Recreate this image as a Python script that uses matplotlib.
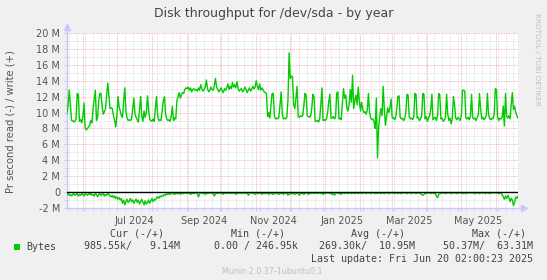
import numpy as np
import pandas as pd
import matplotlib
matplotlib.use('Agg')
import matplotlib.pyplot as plt
import matplotlib.dates as mdates
from matplotlib.ticker import MultipleLocator, FuncFormatter

# daily write throughput (MB/s), one row per week starting 2024-05-18
write_m = [
    9.9, 11.0, 12.8, 11.0, 9.0, 9.0, 8.8,
    8.9, 9.2, 12.4, 12.3, 8.9, 9.1, 8.7,
    9.5, 11.2, 8.1, 7.8, 8.0, 8.2, 8.4,
    9.0, 8.7, 10.5, 11.6, 12.8, 9.0, 9.4,
    11.5, 12.4, 12.4, 10.8, 9.8, 10.1, 10.5,
    12.2, 13.7, 12.0, 10.5, 10.6, 10.5, 9.6,
    9.0, 8.2, 9.5, 12.0, 10.7, 10.2, 9.6,
    9.4, 11.5, 13.1, 10.2, 9.3, 9.0, 9.1,
    9.0, 9.2, 10.5, 11.8, 9.8, 9.4, 9.1,
    8.8, 10.4, 12.0, 9.5, 8.9, 10.2, 9.4,
    10.0, 12.1, 10.4, 9.1, 9.0, 8.9, 9.2,
    8.9, 10.6, 12.0, 9.6, 9.0, 9.1, 9.0,
    10.3, 11.5, 12.0, 9.8, 9.2, 9.0, 9.1,
    8.9, 9.5, 10.8, 9.0, 9.3, 9.2, 11.5,
    12.0, 12.5, 11.8, 12.3, 12.5, 12.4, 12.9,
    13.1, 13.0, 13.2, 12.8, 13.1, 12.6, 12.9,
    13.0, 12.8, 12.9, 12.7, 13.1, 12.8, 13.5,
    13.0, 12.7, 12.9, 13.2, 14.1, 13.0, 12.6,
    12.8, 13.2, 12.9, 12.8, 13.4, 14.3, 13.2,
    12.9, 12.6, 12.8, 13.1, 12.7, 12.5, 13.0,
    12.8, 13.1, 13.6, 12.9, 13.3, 13.0, 13.8,
    13.2, 13.5, 13.1, 13.9, 13.0, 12.7, 12.9,
    13.0, 12.6, 12.8, 13.2, 12.9, 12.5, 12.8,
    13.1, 12.7, 12.9, 13.3, 13.0, 13.2, 14.0,
    13.3, 12.9, 13.6, 12.8, 13.1, 12.9, 12.6,
    12.5, 12.4, 9.5, 10.0, 9.3, 11.0, 12.4,
    12.4, 9.6, 9.2, 9.3, 9.2, 9.4, 11.0,
    12.6, 9.8, 9.2, 9.3, 9.2, 9.4, 11.5,
    17.5, 14.3, 14.6, 14.5, 11.0, 10.5, 11.8,
    13.3, 9.5, 9.4, 9.6, 9.5, 9.6, 10.8,
    12.4, 12.2, 9.6, 9.5, 9.4, 9.6, 10.5,
    12.3, 12.0, 8.9, 8.9, 9.0, 8.8, 9.2,
    11.0, 13.1, 9.0, 9.1, 9.0, 9.2, 10.0,
    11.4, 12.3, 9.3, 9.3, 9.5, 9.2, 9.4,
    12.4, 12.6, 9.2, 9.3, 9.1, 11.0, 13.0,
    11.8, 12.2, 10.5, 10.2, 11.0, 12.9, 11.3,
    14.7, 10.5, 11.5, 12.2, 11.0, 13.2, 11.5,
    10.2, 11.3, 10.4, 10.0, 10.1, 9.8, 10.3,
    12.4, 10.0, 9.3, 9.1, 9.2, 8.8, 8.0,
    11.8, 4.3, 8.2, 9.5, 10.5, 9.6, 13.3,
    10.5, 8.4, 9.5, 10.6, 10.0, 10.6, 11.7,
    9.3, 9.4, 9.1, 9.3, 10.5, 12.0, 12.1,
    9.4, 9.2, 9.3, 9.0, 9.2, 10.0, 12.3,
    12.2, 9.5, 9.2, 9.3, 9.1, 9.4, 12.4,
    12.3, 9.3, 9.4, 9.0, 9.2, 9.6, 12.4,
    12.3, 9.2, 9.5, 8.9, 9.3, 9.6, 10.4,
    12.3, 9.1, 9.3, 9.4, 9.0, 9.5, 12.4,
    12.2, 9.2, 9.3, 8.9, 9.1, 9.4, 12.3,
    9.8, 9.0, 9.3, 8.6, 9.2, 12.0, 11.0,
    9.3, 9.1, 9.4, 9.2, 9.0, 9.6, 12.8,
    12.8, 12.7, 9.3, 9.2, 9.4, 9.1, 9.5,
    12.3, 9.4, 9.2, 9.3, 9.0, 9.4, 9.7,
    12.4, 10.5, 9.2, 9.4, 9.1, 9.3, 9.6,
    12.4, 9.8, 9.2, 9.1, 9.3, 9.2, 9.8,
    13.0, 12.9, 9.4, 9.0, 9.3, 9.2, 9.4,
    10.8, 8.3, 12.4, 9.5, 9.3, 9.6, 9.2,
    11.0, 12.5, 10.4, 10.8, 10.0, 9.6, 9.3,
]

# daily read throughput (MB/s), drawn below zero
read_m = [
    0.3, 0.2, 0.4, 0.3, 0.5, 0.3, 0.2,
    0.4, 0.3, 0.2, 0.5, 0.3, 0.4, 0.2,
    0.3, 0.5, 0.2, 0.3, 0.4, 0.2, 0.3,
    0.2, 0.4, 0.3, 0.5, 0.2, 0.3, 0.6,
    0.3, 0.2, 0.4, 0.3, 0.2, 0.5, 0.3,
    0.4, 0.2, 0.3, 0.5, 0.6, 0.4, 0.7,
    0.5, 0.8, 0.6, 0.9, 0.7, 1.0, 0.8,
    1.4, 1.0, 1.6, 1.2, 0.9, 1.3, 1.1,
    0.8, 1.2, 1.0, 1.4, 1.1, 0.9, 1.3,
    1.0, 1.5, 1.2, 0.9, 1.3, 1.6, 1.1,
    1.5, 1.3, 1.0, 1.4, 1.1, 0.8, 1.2,
    0.9, 1.0, 0.7, 0.6, 0.8, 0.5, 0.6,
    0.4, 0.5, 0.3, 0.4, 0.2, 0.3, 0.2,
    0.3, 0.2, 0.1, 0.2, 0.3, 0.1, 0.2,
    0.2, 0.1, 0.3, 0.2, 0.1, 0.2, 0.1,
    0.1, 0.2, 0.1, 0.1, 0.3, 0.2, 0.1,
    0.2, 0.1, 0.1, 0.2, 0.6, 0.2, 0.1,
    0.1, 0.2, 0.1, 0.3, 0.1, 0.2, 0.1,
    0.1, 0.1, 0.2, 0.1, 0.5, 0.2, 0.1,
    0.2, 0.1, 0.1, 0.2, 0.1, 0.3, 0.1,
    0.1, 0.2, 0.1, 0.1, 0.2, 0.1, 0.2,
    0.1, 0.1, 0.3, 0.1, 0.2, 0.1, 0.1,
    0.2, 0.1, 0.1, 0.2, 0.1, 0.1, 0.4,
    0.2, 0.1, 0.1, 0.2, 0.1, 0.3, 0.2,
    0.1, 0.2, 0.1, 0.1, 0.3, 0.1, 0.2,
    0.1, 0.2, 0.1, 0.3, 0.2, 0.1, 0.2,
    0.3, 0.1, 0.2, 0.1, 0.2, 0.3, 0.1,
    0.2, 0.1, 0.3, 0.1, 0.2, 0.1, 0.4,
    0.2, 0.3, 0.1, 0.2, 0.1, 0.3, 0.2,
    0.1, 0.2, 0.4, 0.1, 0.2, 0.1, 0.3,
    0.2, 0.1, 0.1, 0.3, 0.1, 0.2, 0.1,
    0.1, 0.2, 0.1, 0.1, 0.2, 0.1, 0.1,
    0.2, 0.1, 0.3, 0.1, 0.2, 0.1, 0.1,
    0.1, 0.2, 0.1, 0.3, 0.1, 0.4, 0.2,
    0.1, 0.1, 0.2, 0.1, 0.3, 0.1, 0.1,
    0.2, 0.1, 0.1, 0.2, 0.1, 0.1, 0.2,
    0.1, 0.1, 0.2, 0.1, 0.1, 0.2, 0.1,
    0.1, 0.2, 0.1, 0.1, 0.1, 0.2, 0.1,
    0.1, 0.1, 0.2, 0.1, 0.1, 0.1, 0.2,
    0.1, 0.2, 0.1, 0.1, 0.2, 0.1, 0.1,
    0.2, 0.1, 0.1, 0.1, 0.2, 0.1, 0.1,
    0.1, 0.1, 0.2, 0.1, 0.1, 0.2, 0.1,
    0.1, 0.2, 0.1, 0.1, 0.1, 0.1, 0.2,
    0.1, 0.1, 0.1, 0.2, 0.1, 0.1, 0.1,
    0.2, 0.1, 0.1, 0.1, 0.2, 0.3, 0.4,
    0.3, 0.1, 0.2, 0.1, 0.1, 0.1, 0.2,
    0.1, 0.1, 0.2, 0.1, 0.5, 0.7, 0.3,
    0.1, 0.2, 0.1, 0.1, 0.1, 0.2, 0.1,
    0.1, 0.1, 0.1, 0.2, 0.1, 0.1, 0.1,
    0.1, 0.2, 0.1, 0.1, 0.1, 0.1, 0.2,
    0.1, 0.1, 0.2, 0.1, 0.1, 0.1, 0.1,
    0.1, 0.1, 0.1, 0.2, 0.1, 0.1, 0.1,
    0.2, 0.1, 0.1, 0.1, 0.1, 0.2, 0.1,
    0.1, 0.1, 0.2, 0.1, 0.1, 0.1, 0.1,
    0.1, 0.1, 0.1, 0.2, 0.1, 0.1, 0.3,
    0.6, 0.9, 0.5, 0.8, 0.4, 0.7, 1.2,
    0.8, 1.0, 1.7, 1.3, 0.6, 0.8, 0.5,
]

start = pd.Timestamp('2024-05-18')
end = pd.Timestamp('2025-06-20')
dates = pd.date_range(start, periods=len(write_m), freq='D')
write = np.array(write_m) * 1e6
read = -np.array(read_m) * 1e6

month_labels = ['Jul 2024', 'Sep 2024', 'Nov 2024', 'Jan 2025', 'Mar 2025', 'May 2025']
label_dates = pd.to_datetime(['2024-07-16', '2024-09-16', '2024-11-16',
                              '2025-01-16', '2025-03-16', '2025-05-16'])

legend_head = ['Cur (-/+)', 'Min (-/+)', 'Avg (-/+)', 'Max (-/+)']
legend_vals = ['985.55k/   9.14M', '0.00 / 246.95k', '269.30k/  10.95M', '50.37M/  63.31M']

bg = '#f0f0f0'
green = '#00cc00'
axcol = '#c8c8ff'
txt = '#555555'

W, H = 547, 280
fig = plt.figure(figsize=(W / 100, H / 100), dpi=100, facecolor=bg)
ax = fig.add_axes([67 / W, 1 - 208 / H, 451 / W, 175 / H])
ax.set_facecolor('white')

ax.plot(dates, write, color=green, lw=1, zorder=4)
ax.plot(dates, read, color=green, lw=1, zorder=4)
ax.axhline(0, color='black', lw=1, zorder=5)

ax.set_xlim(start, end)
ax.set_ylim(-2e6, 20e6)

ax.xaxis.set_major_locator(mdates.MonthLocator())
ax.xaxis.set_minor_locator(mdates.WeekdayLocator(byweekday=mdates.MO))
ax.yaxis.set_major_locator(MultipleLocator(2e6))
ax.yaxis.set_minor_locator(MultipleLocator(1e6))
ax.yaxis.set_major_formatter(FuncFormatter(lambda v, p: '0' if abs(v) < 1 else '%d M' % round(v / 1e6)))

ax.grid(which='minor', color='#d8d8d8', lw=0.6, ls=(0, (1, 1)), zorder=1)
ax.grid(which='major', color='#f0a8a8', lw=0.6, ls=(0, (1, 1)), zorder=2)

ax.tick_params(axis='x', which='both', labelbottom=False, length=2, color=axcol)
ax.tick_params(axis='y', which='both', length=2, color=axcol, labelsize=7, labelcolor=txt, pad=3)
for s in ['top', 'right']:
    ax.spines[s].set_visible(False)
for s in ['left', 'bottom']:
    ax.spines[s].set_color(axcol)
    ax.spines[s].set_linewidth(1)

# axis arrows
ax.plot([1.0, 1.012], [0, 0], color=axcol, lw=1, transform=ax.transAxes, clip_on=False)
ax.plot(1.013, 0, marker='>', ms=4, color=axcol, transform=ax.transAxes, clip_on=False)
ax.plot([0, 0], [1.0, 1.03], color=axcol, lw=1, transform=ax.transAxes, clip_on=False)
ax.plot(0, 1.035, marker='^', ms=4, color=axcol, transform=ax.transAxes, clip_on=False)

for d, lab in zip(label_dates, month_labels):
    ax.text(d, -0.045, lab, transform=ax.get_xaxis_transform(), ha='center', va='top',
            fontsize=7, color=txt)

fig.text(274 / W, 1 - 14 / H, 'Disk throughput for /dev/sda - by year', ha='center', va='center',
         fontsize=9, color='#444444')
fig.text(10.5 / W, 1 - 122 / H, 'Pr second read (-) / write (+)', rotation=90, ha='center',
         va='center', fontsize=7.2, color=txt)
fig.text(537 / W, 1 - 13 / H, 'RRDTOOL / TOBI OETIKER', rotation=270, ha='center', va='top',
         fontsize=5.2, color='#c0c0c0')

mono = 'DejaVu Sans Mono'
head_right = [164, 285, 405, 526]
val_right = [180, 297.6, 415, 533]
for r, t in zip(head_right, legend_head):
    fig.text(r / W, 1 - 234 / H, t, ha='right', va='center', family=mono, fontsize=7.2, color='#444444')
for r, t in zip(val_right, legend_vals):
    fig.text(r / W, 1 - 246.5 / H, t, ha='right', va='center', family=mono, fontsize=7.2, color='#444444')
fig.text(26 / W, 1 - 246.5 / H, 'Bytes', ha='left', va='center', family=mono, fontsize=7.2, color='#444444')
fig.patches.append(plt.Rectangle((13.5 / W, 1 - 249.5 / H), 6 / W, 6 / H, transform=fig.transFigure,
                                 facecolor=green, edgecolor='none'))
fig.text(533 / W, 1 - 259 / H, 'Last update: Fri Jun 20 02:00:23 2025', ha='right', va='center',
         family=mono, fontsize=7.2, color='#444444')
fig.text(272 / W, 1 - 272 / H, 'Munin 2.0.37-1ubuntu0.1', ha='center', va='center',
         fontsize=5.8, color='#c0c0c0')

fig.savefig('out.png', dpi=100, facecolor=bg)
